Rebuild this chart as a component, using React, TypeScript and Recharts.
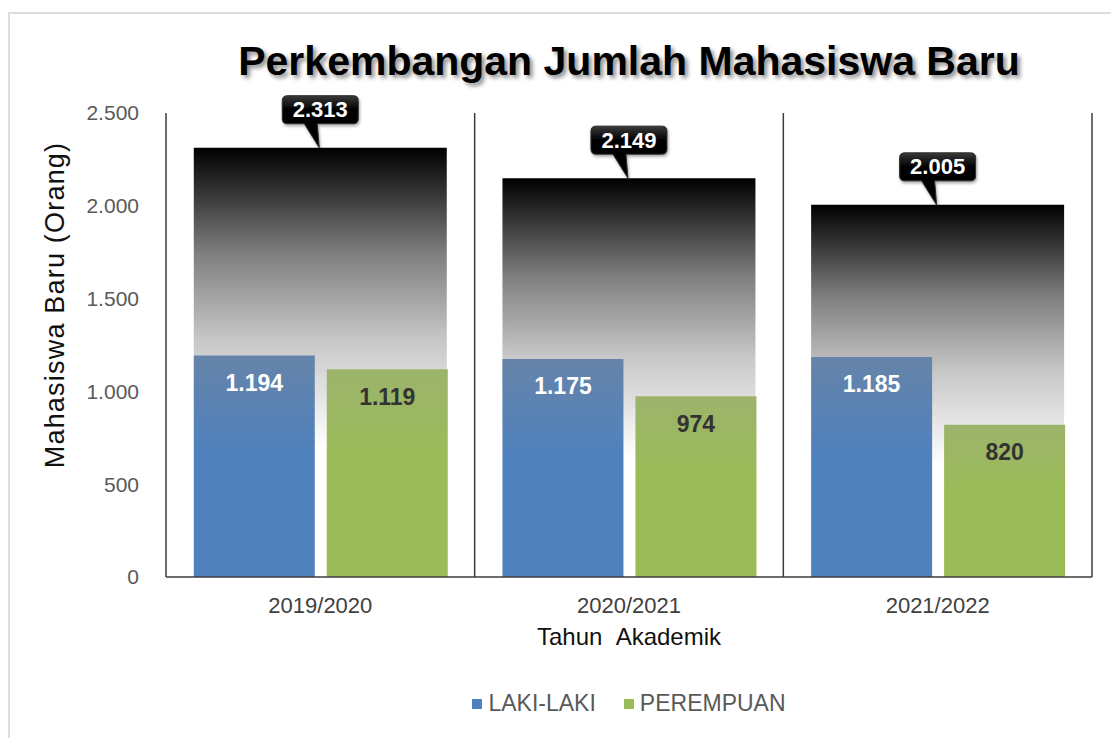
import { BarChart, Bar, XAxis, YAxis, CartesianGrid, Legend, LabelList } from "recharts";

const years = ["2019/2020", "2020/2021", "2021/2022"];
const lakiLaki = [1194, 1175, 1185];
const perempuan = [1119, 974, 820];
const totals = [2313, 2149, 2005];
const yTicks = [0, 500, 1000, 1500, 2000, 2500];

const series = [
  { key: "laki", name: "LAKI-LAKI", color: "#4f81bd" },
  { key: "perempuan", name: "PEREMPUAN", color: "#9bbb59" },
];

const chartData = years.map((year, i) => ({
  year,
  laki: lakiLaki[i],
  perempuan: perempuan[i],
  total: totals[i],
}));

const FONT = '"Liberation Sans", Arial, sans-serif';

const fmt = (v: number) =>
  String(v).replace(/\B(?=(\d{3})+(?!\d))/g, ".");

const TotalCallout = (props: any) => {
  const vb = props.viewBox || props;
  const cx = vb.x + vb.width / 2;
  const top = vb.y;
  const w = 76;
  const h = 28;
  const r = 5;
  const bx = cx - w / 2;
  const by = top - 24 - h;
  const bb = by + h;
  const d = [
    `M ${bx + r} ${by}`,
    `H ${bx + w - r}`,
    `Q ${bx + w} ${by} ${bx + w} ${by + r}`,
    `V ${bb - r}`,
    `Q ${bx + w} ${bb} ${bx + w - r} ${bb}`,
    `H ${cx - 3}`,
    `L ${cx - 1} ${top}`,
    `L ${cx - 16} ${bb}`,
    `H ${bx + r}`,
    `Q ${bx} ${bb} ${bx} ${bb - r}`,
    `V ${by + r}`,
    `Q ${bx} ${by} ${bx + r} ${by}`,
    "Z",
  ].join(" ");
  return (
    <g>
      <path d={d} fill="url(#calloutFill)" stroke="#2a2a2a" strokeWidth={1} filter="url(#calloutShadow)" />
      <text
        x={cx}
        y={by + h / 2}
        textAnchor="middle"
        dominantBaseline="central"
        fill="#ffffff"
        fontFamily={FONT}
        fontWeight="bold"
        fontSize={22}
      >
        {fmt(props.value)}
      </text>
    </g>
  );
};

const YLabel = (props: any) => {
  const vb = props.viewBox;
  const x = vb.x + 29;
  const y = vb.y + vb.height / 2 - 40;
  return (
    <text
      x={x}
      y={y}
      transform={`rotate(-90 ${x} ${y})`}
      textAnchor="middle"
      dominantBaseline="central"
      fill="#111"
      fontFamily={FONT}
      fontSize={27}
      letterSpacing={1.2}
    >
      Mahasiswa Baru (Orang)
    </text>
  );
};

const LegendContent = () => (
  <div
    style={{
      display: "flex",
      justifyContent: "center",
      alignItems: "center",
      fontFamily: FONT,
      fontSize: 23,
      color: "#595959",
    }}
  >
    {series.map((s, i) => (
      <div key={s.key} style={{ display: "flex", alignItems: "center", marginLeft: i ? 28 : 0 }}>
        <span style={{ width: 10, height: 10, background: s.color, display: "inline-block", marginRight: 6 }} />
        <span>{s.name}</span>
      </div>
    ))}
  </div>
);

export default function App() {
  return (
    <div style={{ position: "absolute", left: 0, top: 0, width: 1111, height: 738, overflow: "hidden", background: "#fff" }}>
      <div
        style={{
          position: "absolute",
          left: 8,
          top: 12,
          width: 1130,
          height: 800,
          border: "2px solid #dedede",
        }}
      />
      <div
        style={{
          position: "absolute",
          left: 166,
          width: 926,
          top: 41,
          textAlign: "center",
          fontFamily: FONT,
          fontWeight: "bold",
          fontSize: 41,
          lineHeight: "41px",
          color: "#000",
          textShadow: "3px 3px 4px rgba(0,0,0,0.45)",
          whiteSpace: "nowrap",
        }}
      >
        Perkembangan Jumlah Mahasiswa Baru
      </div>
      <div style={{ position: "absolute", left: 0, top: 0 }}>
        <BarChart
          width={1111}
          height={738}
          data={chartData}
          margin={{ top: 113, right: 19, left: 26, bottom: 71 }}
          barCategoryGap="9%"
          barGap={12}
        >
          <defs>
            <linearGradient id="totalFill" x1="0" y1="0" x2="0" y2="1">
              <stop offset="0" stopColor="#000000" />
              <stop offset="0.1" stopColor="#333333" />
              <stop offset="0.25" stopColor="#808080" />
              <stop offset="0.45" stopColor="#c8c8c8" />
              <stop offset="0.7" stopColor="#ffffff" />
              <stop offset="1" stopColor="#ffffff" />
            </linearGradient>
            <linearGradient id="lakiFill" x1="0" y1="0" x2="0" y2="1">
              <stop offset="0" stopColor="#6684a9" />
              <stop offset="0.45" stopColor="#4f81bd" />
              <stop offset="1" stopColor="#4f81bd" />
            </linearGradient>
            <linearGradient id="perempuanFill" x1="0" y1="0" x2="0" y2="1">
              <stop offset="0" stopColor="#9cb36c" />
              <stop offset="0.4" stopColor="#9bbb59" />
              <stop offset="1" stopColor="#9bbb59" />
            </linearGradient>
            <linearGradient id="calloutFill" x1="0" y1="0" x2="0" y2="1">
              <stop offset="0" stopColor="#3a3a3a" />
              <stop offset="0.25" stopColor="#050505" />
              <stop offset="1" stopColor="#000000" />
            </linearGradient>
            <filter id="calloutShadow" x="-20%" y="-20%" width="140%" height="160%">
              <feDropShadow dx="1" dy="2" stdDeviation="1.5" floodColor="#000" floodOpacity="0.35" />
            </filter>
          </defs>
          <CartesianGrid
            horizontal={false}
            vertical
            stroke="#3c3c3c"
            strokeWidth={1.5}
            verticalCoordinatesGenerator={({ offset }: any) =>
              years.map((_, i) => offset.left + ((i + 1) * offset.width) / years.length)
            }
          />
          <XAxis xAxisId="total" dataKey="year" hide />
          <XAxis
            xAxisId="pair"
            dataKey="year"
            height={90}
            tickSize={0}
            tickMargin={20}
            tickLine={false}
            axisLine={{ stroke: "#3c3c3c", strokeWidth: 1.5 }}
            tick={{ fill: "#404040", fontSize: 22, fontFamily: FONT }}
            label={{
              value: "Tahun\u00a0\u00a0Akademik",
              position: "insideBottom",
              offset: 22,
              fill: "#111",
              fontSize: 24,
              fontFamily: FONT,
            }}
          />
          <YAxis
            width={140}
            domain={[0, 2500]}
            ticks={yTicks}
            tickFormatter={fmt}
            tickSize={0}
            tickMargin={27}
            tickLine={false}
            axisLine={{ stroke: "#3c3c3c", strokeWidth: 1.5 }}
            tick={{ fill: "#595959", fontSize: 21, fontFamily: FONT }}
            label={<YLabel />}
          />
          <Bar xAxisId="total" dataKey="total" fill="url(#totalFill)" isAnimationActive={false} legendType="none">
            <LabelList dataKey="total" content={<TotalCallout />} />
          </Bar>
          <Bar xAxisId="pair" dataKey="laki" name="LAKI-LAKI" fill="url(#lakiFill)" isAnimationActive={false}>
            <LabelList
              dataKey="laki"
              position="insideTop"
              offset={19}
              formatter={fmt}
              fill="#ffffff"
              fontSize={23}
              fontWeight="bold"
              fontFamily={FONT}
            />
          </Bar>
          <Bar xAxisId="pair" dataKey="perempuan" name="PEREMPUAN" fill="url(#perempuanFill)" isAnimationActive={false}>
            <LabelList
              dataKey="perempuan"
              position="insideTop"
              offset={19}
              formatter={fmt}
              fill="#333333"
              fontSize={23}
              fontWeight="bold"
              fontFamily={FONT}
            />
          </Bar>
          <Legend
            layout="horizontal"
            verticalAlign="middle"
            align="center"
            wrapperStyle={{ top: 690, left: 166, width: 926 }}
            content={<LegendContent />}
          />
        </BarChart>
      </div>
    </div>
  );
}
